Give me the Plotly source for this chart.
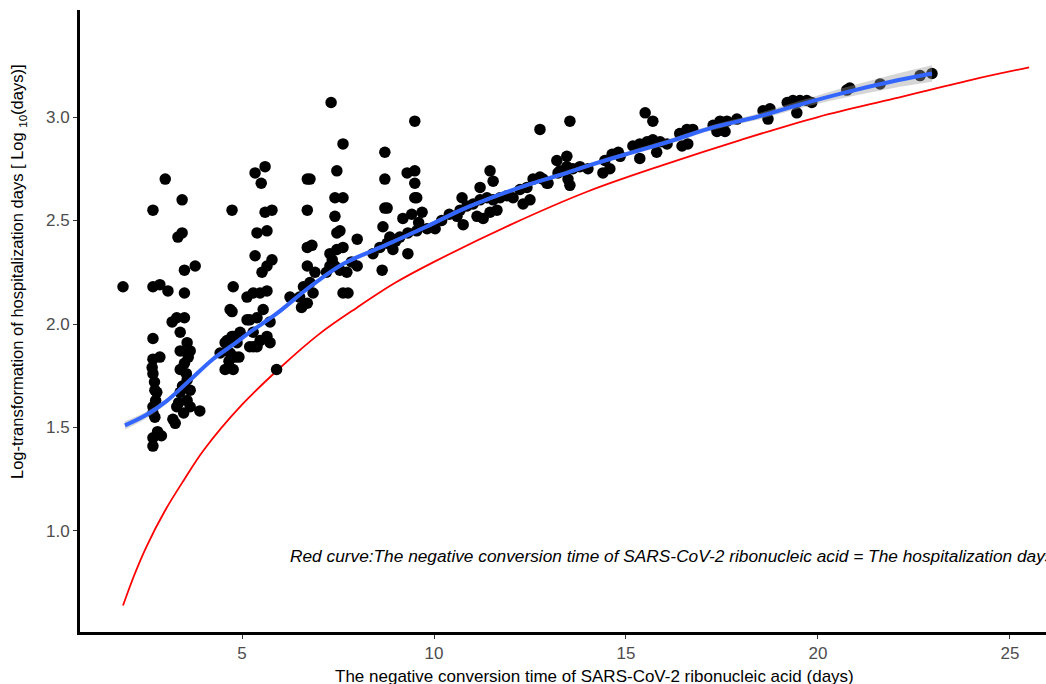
import plotly.graph_objects as go

# ---- scatter points ----
pt_x = [
    1.90,
    3.00, 2.68, 2.68, 2.86, 3.07, 2.68, 2.68, 2.86, 2.66, 2.68, 2.73, 2.78, 2.68, 2.68, 2.73,
    2.68, 2.90, 2.68, 2.72, 2.75, 2.80,
    3.44, 3.44, 3.33, 3.50, 3.78, 3.50, 3.18, 3.30, 3.50, 3.39, 3.57, 3.65, 3.39, 3.50, 3.39,
    3.57, 3.65, 3.39, 3.57, 3.30, 3.65, 3.48, 3.90, 3.20, 3.26, 3.45, 3.55, 3.35, 3.60,
    4.74, 4.77, 4.69, 4.43, 4.56, 4.74, 4.87, 4.69, 4.82, 4.56, 4.77, 4.74, 4.61, 4.77, 4.95,
    4.61, 4.92, 4.66,
    5.34, 5.60, 5.50, 5.60, 5.78, 5.39, 5.65, 5.34, 5.65, 5.52, 5.78, 5.29, 5.47, 5.65,
    5.20, 5.39, 5.55, 5.73, 5.29, 5.47, 5.65, 5.39, 5.73, 5.29, 5.13, 5.13, 5.20, 5.90,
    6.70, 6.77, 6.70, 6.70, 6.82, 6.70, 6.25, 6.50, 6.77, 6.85, 6.70, 6.60, 6.90, 6.55,
    7.32, 7.63, 7.47, 7.42, 7.63, 7.42, 7.47, 7.55, 8.00, 7.29, 7.47, 7.63, 7.29, 7.42,
    7.55, 7.73, 8.00, 7.63, 7.76, 7.35, 7.85, 7.20,
    9.50, 8.72, 9.30, 9.50, 9.50, 8.72, 9.50, 9.55, 8.72, 8.78, 8.67, 9.19, 9.42, 9.69,
    8.41, 8.59, 8.78, 8.93, 9.11, 9.32, 9.55, 9.82, 10.03, 9.32, 8.65, 8.85, 9.00, 9.60,
    10.20, 10.40,
    10.73, 11.46, 11.54, 11.20, 10.68, 10.86, 11.02, 11.20, 11.38, 11.54, 11.72, 11.90, 12.06,
    10.60, 10.76, 11.12, 11.28, 11.46, 11.64, 12.24, 12.42, 12.58, 12.76, 12.94, 12.32, 12.50,
    12.76, 13.20, 13.23,
    13.54, 13.46, 13.28, 13.46, 13.62, 13.80, 14.01, 12.84, 12.97, 13.49, 13.54,
    14.40, 14.58, 14.45, 14.64, 14.80, 14.85,
    15.50, 15.70, 15.18, 15.36, 15.55, 15.70, 15.89, 16.07, 15.36, 15.80,
    16.40, 16.59, 16.74, 16.46, 16.61,
    17.27, 17.45, 17.63, 17.89, 17.37, 17.58,
    18.57, 18.75, 18.70, 19.27, 19.45, 19.45, 19.20, 19.35, 19.53, 19.71, 19.84,
    20.75, 20.83, 21.62, 22.66, 22.97,
]
pt_y = [
    2.18,
    2.70, 2.55, 2.18, 2.19, 2.16, 1.93, 1.83, 1.84, 1.79, 1.76, 1.68, 1.67, 1.60, 1.57, 1.55,
    1.45, 1.46, 1.41, 1.72, 1.63, 1.48,
    2.60, 2.44, 2.42, 2.26, 2.28, 2.15, 2.01, 2.03, 2.03, 1.96, 1.91, 1.87, 1.87, 1.81, 1.78,
    1.73, 1.68, 1.67, 1.63, 1.60, 1.60, 1.57, 1.58, 1.54, 1.52, 1.70, 1.76, 1.62, 1.84,
    2.55, 2.18, 2.07, 1.86, 1.91, 1.94, 1.91, 1.86, 1.84, 1.78, 1.78, 2.06, 1.92, 1.94, 1.96,
    1.87, 1.84, 1.82,
    2.73, 2.76, 2.68, 2.54, 2.55, 2.44, 2.45, 2.33, 2.28, 2.25, 2.31, 2.15, 2.15, 2.16,
    2.02, 2.03, 2.07, 2.01, 1.96, 1.92, 1.94, 1.89, 1.91, 1.89, 2.02, 2.13, 1.89, 1.78,
    2.70, 2.70, 2.55, 2.37, 2.38, 2.28, 2.13, 2.13, 2.20, 2.15, 2.10, 2.18, 2.25, 2.08,
    3.07, 2.87, 2.74, 2.61, 2.61, 2.52, 2.44, 2.45, 2.41, 2.34, 2.36, 2.37, 2.28, 2.28,
    2.26, 2.25, 2.28, 2.15, 2.15, 2.31, 2.30, 2.25,
    2.98, 2.83, 2.73, 2.74, 2.68, 2.70, 2.61, 2.61, 2.56, 2.56, 2.47, 2.51, 2.53, 2.54,
    2.34, 2.37, 2.39, 2.36, 2.42, 2.44, 2.45, 2.46, 2.46, 2.34, 2.26, 2.42, 2.40, 2.49,
    2.50, 2.53,
    2.61, 2.74, 2.69, 2.66, 2.55, 2.57, 2.58, 2.60, 2.61, 2.60, 2.61, 2.62, 2.61,
    2.52, 2.48, 2.52, 2.51, 2.54, 2.55, 2.65, 2.66, 2.70, 2.71, 2.68, 2.58, 2.60,
    2.94, 2.79, 2.73,
    2.98, 2.81, 2.74, 2.76, 2.75, 2.76, 2.75, 2.70, 2.68, 2.70, 2.67,
    2.73, 2.75, 2.79, 2.82, 2.83, 2.81,
    3.02, 2.98, 2.86, 2.87, 2.88, 2.89, 2.88, 2.87, 2.80, 2.83,
    2.92, 2.94, 2.94, 2.86, 2.87,
    2.96, 2.98, 2.98, 2.99, 2.93, 2.93,
    3.03, 3.04, 2.99, 3.07, 3.07, 3.02, 3.07, 3.08, 3.08, 3.08, 3.07,
    3.13, 3.14, 3.16, 3.20, 3.21,
]

# ---- smoothed (loess) curve and its confidence band ----
fit_x = [1.95, 2.5, 3.05, 3.65, 4.24, 4.77, 5.2, 5.9, 6.77, 7.63, 8.6, 9.8, 10.7, 11.5, 12.4,
         13.28, 14.1, 15.0, 16.1, 17.27, 18.4, 19.53, 20.75, 21.9, 22.97]
fit_y = [1.51, 1.56, 1.63, 1.73, 1.83, 1.90, 1.96, 2.05, 2.18, 2.29, 2.37, 2.47, 2.55, 2.61, 2.67,
         2.72, 2.77, 2.82, 2.88, 2.95, 3.00, 3.06, 3.12, 3.17, 3.21]
fit_hi = [1.530, 1.576, 1.643, 1.742, 1.841, 1.910, 1.970, 2.060, 2.190, 2.300, 2.380, 2.480, 2.560,
          2.620, 2.680, 2.730, 2.780, 2.831, 2.892, 2.963, 3.015, 3.078, 3.145, 3.202, 3.250]
fit_lo = [1.490, 1.544, 1.617, 1.718, 1.819, 1.890, 1.950, 2.040, 2.170, 2.280, 2.360, 2.460, 2.540,
          2.600, 2.660, 2.710, 2.760, 2.809, 2.868, 2.937, 2.985, 3.042, 3.095, 3.138, 3.170]

# ---- red reference curve ----
red_x = [1.9, 2.2, 2.5, 3.0, 3.5, 4.0, 5.0, 6.0, 7.0, 8.0, 9.0, 10.0, 12.0, 14.0, 16.0, 18.0,
         20.0, 22.0, 24.0, 25.5]
red_y = [0.64, 0.79, 0.92, 1.10, 1.25, 1.39, 1.61, 1.79, 1.95, 2.08, 2.20, 2.30, 2.48, 2.64, 2.77,
         2.89, 3.00, 3.09, 3.18, 3.24]

x_ticks = [5, 10, 15, 20, 25]
y_ticks = [1.0, 1.5, 2.0, 2.5, 3.0]
y_tick_text = ["1.0", "1.5", "2.0", "2.5", "3.0"]

x_title = "The negative conversion time of SARS-CoV-2 ribonucleic acid (days)"
y_title = "Log-transformation of hospitalization days [ Log <sub>10</sub>(days)]"
note = "Red curve:The negative conversion time of SARS-CoV-2 ribonucleic acid = The hospitalization days"

FONT = "Liberation Sans, Arial, sans-serif"

fig = go.Figure()
fig.add_trace(go.Scatter(x=red_x, y=red_y, mode="lines", line=dict(color="#FF0000", width=1.8, shape="spline"),
                         hoverinfo="skip"))
fig.add_trace(go.Scatter(x=pt_x, y=pt_y, mode="markers", marker=dict(color="black", size=11.5, line=dict(width=0))))
fig.add_trace(go.Scatter(x=fit_x, y=fit_lo, mode="lines", line=dict(width=0, shape="spline"), hoverinfo="skip"))
fig.add_trace(go.Scatter(x=fit_x, y=fit_hi, mode="lines", line=dict(width=0, shape="spline"), fill="tonexty",
                         fillcolor="rgba(153,153,153,0.4)", hoverinfo="skip"))
fig.add_trace(go.Scatter(x=fit_x, y=fit_y, mode="lines", line=dict(color="#3366FF", width=4, shape="spline")))

fig.update_layout(
    width=1046, height=684, autosize=False,
    margin=dict(l=80, r=0, t=10, b=52),
    plot_bgcolor="white", paper_bgcolor="white",
    showlegend=False,
    font=dict(family=FONT, color="black"),
    xaxis=dict(range=[0.78, 25.94], tickvals=x_ticks, showgrid=False, zeroline=False,
               showline=True, linecolor="black", linewidth=3, ticks="outside", ticklen=4,
               tickcolor="#333333", tickwidth=1.2, tickfont=dict(size=17, color="#4D4D4D")),
    yaxis=dict(range=[0.512, 3.517], tickvals=y_ticks, ticktext=y_tick_text, showgrid=False, zeroline=False,
               showline=True, linecolor="black", linewidth=3, ticks="outside", ticklen=4,
               tickcolor="#333333", tickwidth=1.2, tickfont=dict(size=17, color="#4D4D4D")),
    annotations=[
        dict(text=x_title, xref="paper", yref="paper", x=0.533, y=0, yshift=-44, xanchor="center",
             yanchor="middle", showarrow=False, font=dict(size=17, color="black")),
        dict(text=y_title, xref="paper", yref="paper", x=-0.064, y=0.579, textangle=-90,
             xanchor="center", yanchor="middle", showarrow=False, font=dict(size=16.5, color="black")),
        dict(text="<i>" + note + "</i>", xref="x", yref="y", x=6.2, y=0.879, xanchor="left",
             yanchor="middle", showarrow=False, font=dict(size=17.3, color="black")),
    ],
)

fig.write_html("out.html", config={"displayModeBar": False},
               post_script="document.body.style.margin='0';document.body.style.overflow='hidden';")
